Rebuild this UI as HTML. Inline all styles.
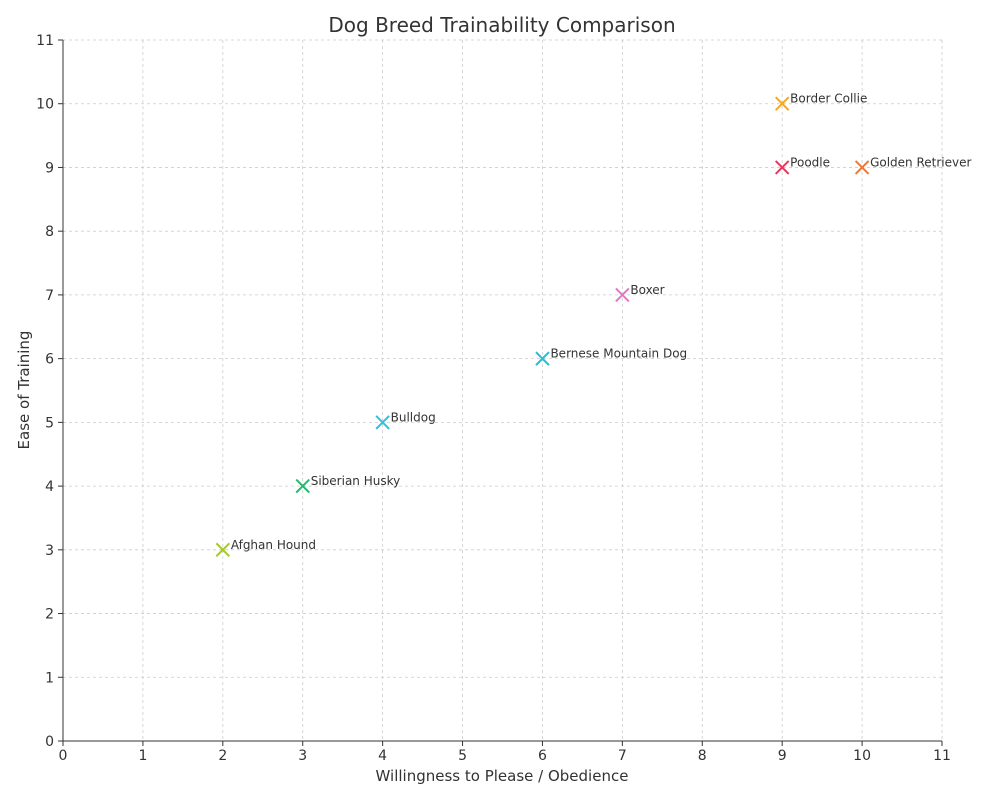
<!DOCTYPE html>
<html><head><meta charset="utf-8"><style>
body{margin:0;background:#fff;}
svg text{font-family:"DejaVu Sans","Liberation Sans",sans-serif;}
</style></head><body>
<svg id="chart" width="1000" height="800" xmlns="http://www.w3.org/2000/svg">
<rect width="1000" height="800" fill="#fff"/>
<g id="grid"></g>
<g id="axes"></g>
<g id="marks"></g>
<text x="502" y="32" text-anchor="middle" font-size="20" fill="#333">Dog Breed Trainability Comparison</text>
<text x="502" y="781" text-anchor="middle" font-size="15" fill="#333">Willingness to Please / Obedience</text>
<text transform="translate(29,390) rotate(-90)" text-anchor="middle" font-size="15" fill="#333">Ease of Training</text>
</svg>
<script>
const breeds=["Border Collie","Poodle","Golden Retriever","Boxer","Bernese Mountain Dog","Bulldog","Siberian Husky","Afghan Hound"];
const obedience=[9,9,10,7,6,4,3,2];
const easeOfTraining=[10,9,9,7,6,5,4,3];
const colors=["#f5a623","#e8365d","#ee7636","#e377c2","#26c0d8","#2ec3de","#1cbe6a","#a6c926"];
const xTicks=[0,1,2,3,4,5,6,7,8,9,10,11];
const yTicks=[0,1,2,3,4,5,6,7,8,9,10,11];
const X0=63,X1=942,Y0=741,Y1=40,MIN=0,MAX=11;
const sx=v=>X0+(v-MIN)/(MAX-MIN)*(X1-X0);
const sy=v=>Y0-(v-MIN)/(MAX-MIN)*(Y0-Y1);
const NS="http://www.w3.org/2000/svg";
function mk(t,a,p){const e=document.createElementNS(NS,t);for(const k in a)e.setAttribute(k,a[k]);p.appendChild(e);return e;}
const grid=document.getElementById('grid'),axes=document.getElementById('axes'),marks=document.getElementById('marks');
xTicks.forEach(v=>{
 const x=sx(v);
 if(v>0){const g=mk('line',{x1:x,x2:x,y1:Y1,y2:Y0,stroke:'#ccc','stroke-dasharray':'3,3','stroke-width':0.8},grid);
 }
 const t=mk('line',{x1:x,x2:x,y1:Y0,y2:Y0+5,stroke:'#333'},axes);
 
 const l=mk('text',{x:x,y:Y0+19,'text-anchor':'middle','font-size':14,fill:'#333'},axes);l.textContent=v;
 
});
yTicks.forEach(v=>{
 const y=sy(v);
 if(v>0){const g=mk('line',{x1:X0,x2:X1,y1:y,y2:y,stroke:'#ccc','stroke-dasharray':'3,3','stroke-width':0.8},grid);
 }
 const t=mk('line',{x1:X0-5,x2:X0,y1:y,y2:y,stroke:'#333'},axes);
 
 const l=mk('text',{x:X0-9,y:y+5,'text-anchor':'end','font-size':14,fill:'#333'},axes);l.textContent=v;
 
});
const ax=mk('line',{x1:X0,x2:X0,y1:Y1,y2:Y0,stroke:'#333'},axes);

const bx=mk('line',{x1:X0,x2:X1,y1:Y0,y2:Y0,stroke:'#333'},axes);

breeds.forEach((b,i)=>{
 const x=sx(obedience[i]),y=sy(easeOfTraining[i]),s=6.5;
 const g=mk('g',{},marks);
 
 
 mk('path',{d:`M${x-s},${y-s}L${x+s},${y+s}M${x-s},${y+s}L${x+s},${y-s}`,stroke:colors[i],'stroke-width':2},g);
 const l=mk('text',{x:x+8,y:y-1,'font-size':12,fill:'#333'},g);l.textContent=b;
 
});
</script>
</body></html>
